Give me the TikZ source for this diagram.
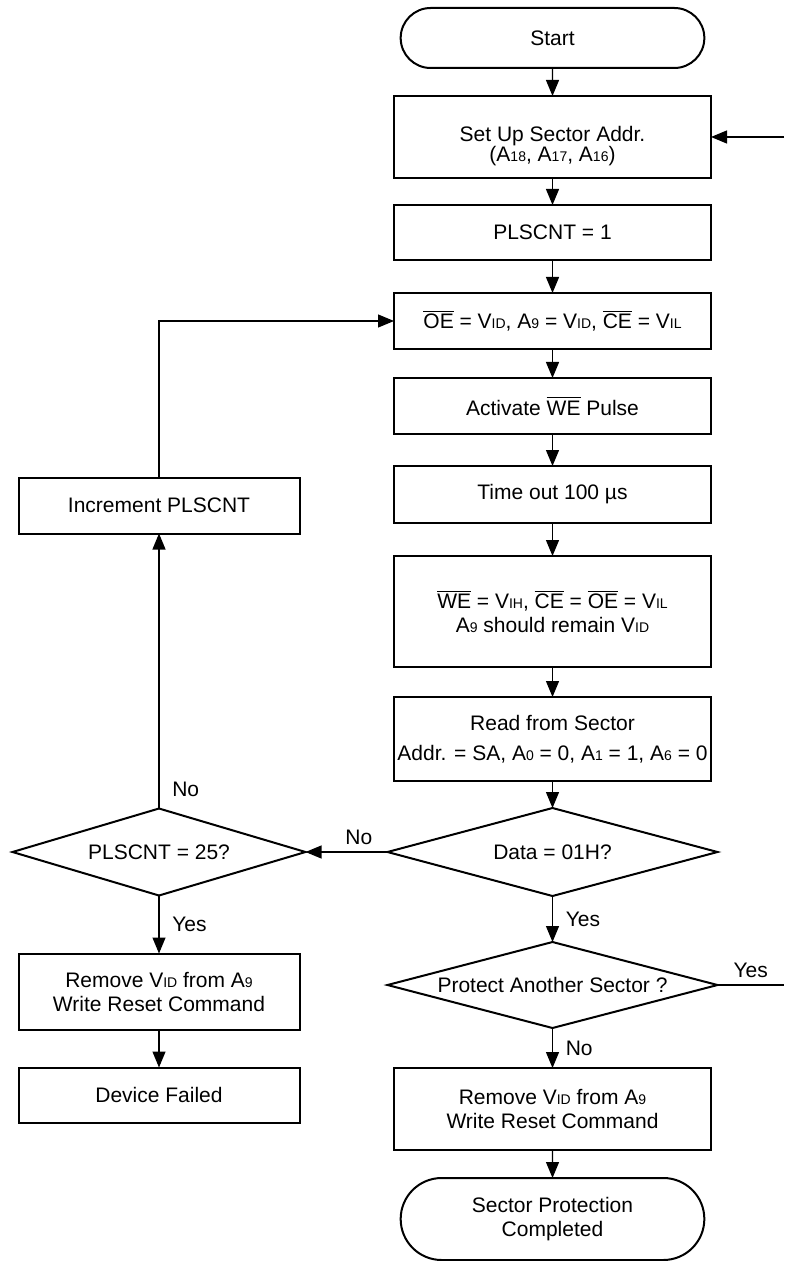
\documentclass[tikz,border=0pt]{standalone}
\usepackage{fontspec}
\setmainfont{Liberation Sans}
\usetikzlibrary{positioning}
\usetikzlibrary{arrows.meta}
\usetikzlibrary{shapes.geometric}
\usetikzlibrary{shapes.misc}
\newcommand{\lowtxt}[1]{{\fontsize{7pt}{7pt}\selectfont #1}}
\newcommand{\notsig}[1]{$\overline{\mbox{#1}}$}

\begin{document}
\begin{tikzpicture}[x=0.5pt, y=-0.5pt,
        font=\fontsize{10.5pt}{12pt}\selectfont,
        box/.style={draw, line width=1pt, outer sep=0pt, minimum width=158.5pt, minimum height=28pt, align=center, inner sep=1pt},
        lbox/.style={box, minimum width=140.5pt},
        term/.style={draw, rounded rectangle, line width=1pt, outer sep=0pt, minimum width=158.5pt, minimum height=30pt, align=center},
        decide/.style={draw, diamond, aspect=3.7, line width=1pt, outer sep=0pt, minimum width=165pt, minimum height=44pt, inner sep=1pt},
        flow/.style={-{Triangle[length=8pt,width=6.5pt]}, line width=0.6pt},
        lbl/.style={right, xshift=3pt}]
        \useasboundingbox (0,0) rectangle (784,1261);
        % nodes %
        \node[term] (start) at (552.5,38) {Start};
        \node[box, minimum height=41pt, below=14pt of start] (setup) {\raisebox{-5pt}[\height][\depth]{\begin{tabular}{@{}c@{}}Set Up Sector Addr.\\[-2pt](A\lowtxt{18}, A\lowtxt{17}, A\lowtxt{16})\end{tabular}}};
        \node[box, minimum height=27.5pt, below=13.5pt of setup] (init) {PLSCNT = 1};
        \node[box, below=16.5pt of init] (oe) {\notsig{OE} = V\lowtxt{ID}, A\lowtxt{9} = V\lowtxt{ID}, \notsig{CE} = V\lowtxt{IL}};
        \node[box, below=14.5pt of oe] (pulse) {Activate \notsig{WE} Pulse};
        \node[box, minimum height=28.5pt, below=16pt of pulse] (wait) {Time out 100 µs};
        \node[box, minimum height=55.5pt, below=16.5pt of wait] (idle) {\notsig{WE} = V\lowtxt{IH}, \notsig{CE} = \notsig{OE} = V\lowtxt{IL}\\A\lowtxt{9} should remain V\lowtxt{ID}};
        \node[box, minimum height=42pt, below=15pt of idle] (read) {Read from Sector\\[3pt]Addr. = SA, A\lowtxt{0} = 0, A\lowtxt{1} = 1, A\lowtxt{6} = 0};
        \node[decide, below=13.5pt of read] (data) {Data = 01H?};
        \node[decide, minimum height=43pt, below=23pt of data] (more) {Protect Another Sector ?};
        \node[box, minimum height=41pt, below=20pt of more] (reset) {Remove V\lowtxt{ID} from A\lowtxt{9}\\Write Reset Command};
        \node[term, minimum height=41pt, below=14pt of reset] (done) {Sector Protection\\Completed};
        % left column %
        \node[decide, aspect=3.4, minimum width=146.5pt, minimum height=43.5pt, left=41pt of data] (count) {PLSCNT = 25?};
        \node[lbox, minimum height=38pt, below=29pt of count] (resetL) {Remove V\lowtxt{ID} from A\lowtxt{9}\\Write Reset Command};
        \node[lbox, minimum height=27.5pt, below=19pt of resetL] (failed) {Device Failed};
        \node[lbox, above=137.5pt of count] (incr) {Increment PLSCNT};
        % free ends at the right rim %
        \coordinate (rim) at (784,0);
        \coordinate (yesend) at (more.east -| rim);
        \coordinate (backin) at (setup.east -| rim);
        % edges %
        \foreach \a/\b in {start/setup, setup/init, init/oe, oe/pulse, pulse/wait, wait/idle, idle/read, read/data, reset/done, resetL/failed}
                \draw[flow] (\a) -- (\b);
        \draw[flow] (data) -- node[lbl]{Yes} (more);
        \draw[flow] (more) -- node[lbl]{No} (reset);
        \draw[flow] (data) -- node[above, pos=0.35]{No} (count);
        \draw[flow] (count) -- node[lbl, pos=0.07]{No} (incr);
        \draw[flow] (count) -- node[lbl]{Yes} (resetL);
        \draw[flow] (incr) |- (oe);
        \draw[line width=0.6pt] (more) -- node[above]{Yes} (yesend);
        \draw[flow] (backin) -- (setup);
\end{tikzpicture}
\end{document}
